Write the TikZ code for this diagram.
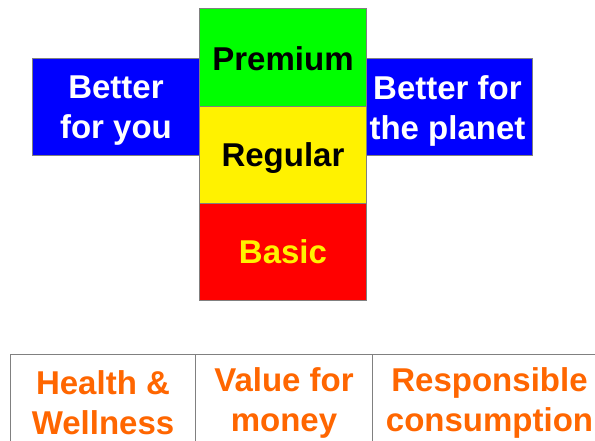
\documentclass[tikz,border=0pt]{standalone}
\usepackage{fontspec}
\setmainfont{Liberation Sans}
\definecolor{myorange}{HTML}{FF6600}
\definecolor{myborder}{HTML}{808080}
\begin{document}
\begin{tikzpicture}[x=1pt,y=-1pt,
  box/.style={draw=myborder, line width=1pt, inner sep=0pt, anchor=north west},
  lbl/.style={inner sep=0pt, align=center, font=\bfseries\fontsize{33}{40}\selectfont},
  cell/.style={draw=myborder, line width=1pt, inner sep=0pt, anchor=north west,
    align=center, text=myorange, font=\bfseries\fontsize{33}{40}\selectfont}]
\clip (0,0) rectangle (595,440);
\fill[white] (0,0) rectangle (595,440);
% side boxes
\node[box, fill=blue, minimum width=167pt, minimum height=97pt] (you) at (32,58) {};
\node[box, fill=blue, minimum width=166pt, minimum height=97pt] (planet) at (366,58) {};
\node[lbl, text=white] (youtxt) at ([yshift=-4pt]you.center) {Better\\for you};
\node[lbl, text=white] (planettxt) at ([yshift=-4pt,xshift=-2pt]planet.center) {Better for\\the planet};
% central column
\node[box, fill=green, minimum width=167pt, minimum height=98pt] (premium) at (199,8) {};
\node[box, fill=yellow, minimum width=167pt, minimum height=97pt] (regular) at (199,106) {};
\node[box, fill=red, minimum width=167pt, minimum height=97pt] (basic) at (199,203) {};
\node[lbl, text=black] (premtxt) at ([yshift=-1pt]premium.center) {Premium};
\node[lbl, text=black] (regtxt) at ([yshift=-3pt]regular.center) {Regular};
\node[lbl, text=yellow] (bastxt) at (basic.center) {Basic};
% bottom table
\node[cell, minimum width=185pt, minimum height=96pt] (health) at (10,354) {Health \&\\Wellness};
\node[cell, minimum width=177pt, minimum height=96pt] (value) at (195,354) {Value for\\money};
\node[cell, minimum width=234pt, minimum height=96pt] (resp) at (372,354) {Responsible\\consumption};
\end{tikzpicture}
\end{document}
